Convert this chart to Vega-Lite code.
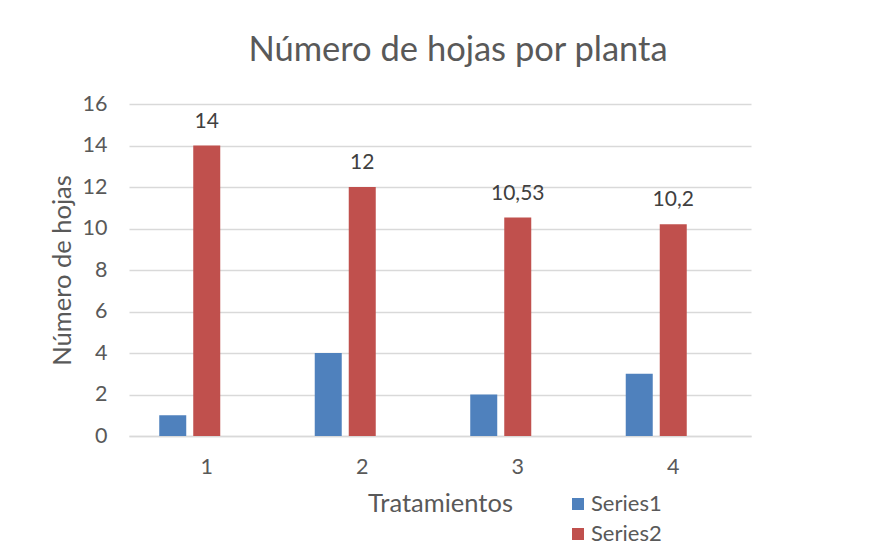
{
  "$schema": "https://vega.github.io/schema/vega-lite/v6.json",
  "width": 622,
  "height": 332,
  "autosize": {"type": "none"},
  "padding": {"left": 129, "top": 104, "right": 145, "bottom": 114},
  "background": "white",
  "config": {
    "view": {"stroke": null},
    "font": "Lato",
    "locale": {"number": {"decimal": ",", "thousands": ".", "grouping": [3], "currency": ["", " €"]}}
  },
  "title": {
    "text": "Número de hojas por planta",
    "font": "Lato",
    "fontSize": 34.5,
    "fontWeight": "normal",
    "color": "#595959",
    "anchor": "middle",
    "dx": 18,
    "offset": 25
  },
  "data": {
    "values": [
      {"tratamiento": "1", "serie": "Series1", "valor": 1},
      {"tratamiento": "1", "serie": "Series2", "valor": 14},
      {"tratamiento": "2", "serie": "Series1", "valor": 4},
      {"tratamiento": "2", "serie": "Series2", "valor": 12},
      {"tratamiento": "3", "serie": "Series1", "valor": 2},
      {"tratamiento": "3", "serie": "Series2", "valor": 10.53},
      {"tratamiento": "4", "serie": "Series1", "valor": 3},
      {"tratamiento": "4", "serie": "Series2", "valor": 10.2}
    ]
  },
  "encoding": {
    "x": {
      "field": "tratamiento",
      "type": "nominal",
      "scale": {"paddingInner": 0.389, "paddingOuter": 0.1945},
      "axis": {
        "title": "Tratamientos",
        "titleFont": "Lato",
        "titleFontSize": 25.5,
        "titleFontWeight": "normal",
        "titleColor": "#595959",
        "titlePadding": 14,
        "labelAngle": 0,
        "labelFontSize": 21.5,
        "labelColor": "#595959",
        "labelPadding": 20,
        "ticks": false,
        "domainColor": "#D9D9D9",
        "domainWidth": 1.5,
        "grid": false
      }
    },
    "xOffset": {
      "field": "serie",
      "type": "nominal",
      "scale": {"domain": ["Series1", "Series2", "Series3"], "paddingInner": 0.206, "paddingOuter": 0}
    },
    "y": {
      "field": "valor",
      "type": "quantitative",
      "scale": {"domain": [0, 16], "nice": false},
      "axis": {
        "title": "Número de hojas",
        "titleFont": "Lato",
        "titleFontSize": 25.5,
        "titleFontWeight": "normal",
        "titleColor": "#595959",
        "titlePadding": 7,
        "values": [0, 2, 4, 6, 8, 10, 12, 14, 16],
        "labelFontSize": 21.5,
        "labelColor": "#595959",
        "labelPadding": 22,
        "ticks": false,
        "domain": false,
        "gridColor": "#D9D9D9",
        "gridWidth": 1.5
      }
    }
  },
  "layer": [
    {
      "mark": {"type": "bar"},
      "encoding": {
        "color": {
          "field": "serie",
          "type": "nominal",
          "scale": {"domain": ["Series1", "Series2"], "range": ["#4F81BD", "#C0504D"]},
          "legend": {
            "title": null,
            "orient": "none",
            "legendX": 438,
            "legendY": 389,
            "symbolType": "square",
            "symbolSize": 144,
            "symbolStrokeWidth": 0,
            "labelFontSize": 22,
            "labelColor": "#595959",
            "labelOffset": 2,
            "rowPadding": 8
          }
        }
      }
    },
    {
      "transform": [{"filter": "datum.serie === 'Series2'"}],
      "mark": {"type": "text", "baseline": "alphabetic", "dy": -18, "fontSize": 21, "color": "#404040"},
      "encoding": {
        "text": {"field": "valor", "type": "quantitative", "format": "~g"}
      }
    }
  ]
}
